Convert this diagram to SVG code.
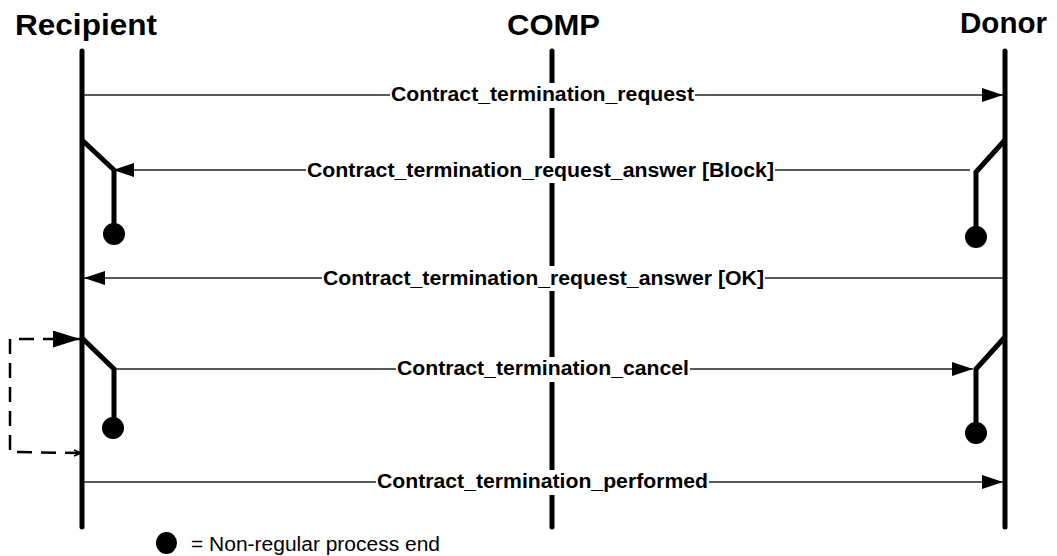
<svg xmlns="http://www.w3.org/2000/svg" width="1057" height="556" viewBox="0 0 1057 556">
<style>
.title{font-family:"Liberation Sans",Arial,sans-serif;font-weight:bold;font-size:30px;fill:#000}
.lbl{font-family:"Liberation Sans",Arial,sans-serif;font-weight:bold;font-size:20px;fill:#000;text-anchor:middle}
.legend{font-family:"Liberation Sans",Arial,sans-serif;font-size:20px;fill:#000}
.life{stroke:#000;stroke-width:5;stroke-linecap:round;fill:none}
.branch{stroke:#000;stroke-width:5;fill:none;stroke-linejoin:miter}
.msg{stroke:#222;stroke-width:1.5;fill:none}
.dash{stroke:#000;stroke-width:2.5;fill:none;stroke-dasharray:15 9}
.bg{fill:#fff}
</style>
<defs>
<marker id="ah" markerWidth="21" markerHeight="14" refX="21" refY="7" orient="auto" markerUnits="userSpaceOnUse">
<path d="M0,0 L21,7 L0,14 Z" fill="#000"/>
</marker>
<marker id="ahBig" markerWidth="27" markerHeight="17" refX="27" refY="8.5" orient="auto" markerUnits="userSpaceOnUse">
<path d="M0,0 L27,8.5 L0,17 Z" fill="#000"/>
</marker>
</defs>

<g id="recipient">
<text class="title" x="15" y="35" textLength="142" lengthAdjust="spacingAndGlyphs">Recipient</text>
<line class="life" x1="82" y1="51" x2="82" y2="527"/>
</g>
<g id="comp">
<text class="title" x="507" y="35" textLength="93" lengthAdjust="spacingAndGlyphs">COMP</text>
<line class="life" x1="552" y1="51" x2="552" y2="527"/>
</g>
<g id="donor">
<text class="title" x="960" y="33" textLength="87" lengthAdjust="spacingAndGlyphs">Donor</text>
<line class="life" x1="1005" y1="51" x2="1005" y2="527"/>
</g>

<g id="recipient-end-1">
<path class="branch" d="M82,140 L114,170 L114,228"/>
<circle cx="114" cy="234" r="11" fill="#000"/>
</g>
<g id="donor-end-1">
<path class="branch" d="M1005,140 L976,172 L976,230"/>
<circle cx="976" cy="237" r="11" fill="#000"/>
</g>
<g id="recipient-end-2">
<path class="branch" d="M82,338 L114,369 L114,420"/>
<circle cx="113" cy="428" r="11" fill="#000"/>
</g>
<g id="donor-end-2">
<path class="branch" d="M1005,337 L976,369 L976,426"/>
<circle cx="976" cy="433" r="11" fill="#000"/>
</g>

<g id="connectors">
<line class="msg" x1="84" y1="95" x2="1003" y2="95" marker-end="url(#ah)"/>
<line class="msg" x1="970" y1="170" x2="113" y2="170" marker-end="url(#ah)"/>
<line class="msg" x1="1003" y1="278" x2="84" y2="278" marker-end="url(#ah)"/>
<line class="msg" x1="116" y1="369" x2="973" y2="369" marker-end="url(#ah)"/>
<line class="msg" x1="84" y1="482" x2="1003" y2="482" marker-end="url(#ah)"/>
<path class="dash" d="M80,453 L10,452 L10,339 L80,339" marker-end="url(#ahBig)"/>
<path d="M74,450 L81,453 L74,456" fill="none" stroke="#000" stroke-width="1.5"/>
</g>

<g id="labels">
<rect class="bg" x="390" y="83" width="305" height="25"/>
<text class="lbl" x="542.5" y="101" textLength="303" lengthAdjust="spacingAndGlyphs">Contract_termination_request</text>
<rect class="bg" x="306" y="158" width="469" height="25"/>
<text class="lbl" x="540.5" y="177" textLength="467" lengthAdjust="spacingAndGlyphs">Contract_termination_request_answer [Block]</text>
<rect class="bg" x="322" y="266" width="443" height="25"/>
<text class="lbl" x="543.5" y="285" textLength="441" lengthAdjust="spacingAndGlyphs">Contract_termination_request_answer [OK]</text>
<rect class="bg" x="396" y="357" width="294" height="25"/>
<text class="lbl" x="543" y="375" textLength="292" lengthAdjust="spacingAndGlyphs">Contract_termination_cancel</text>
<rect class="bg" x="376" y="470" width="333" height="25"/>
<text class="lbl" x="542.5" y="488" textLength="331" lengthAdjust="spacingAndGlyphs">Contract_termination_performed</text>
</g>

<g id="legend">
<ellipse cx="166.5" cy="543" rx="10.5" ry="11" fill="#000"/>
<text class="legend" x="191" y="551" textLength="249" lengthAdjust="spacingAndGlyphs">= Non-regular process end</text>
</g>
</svg>
